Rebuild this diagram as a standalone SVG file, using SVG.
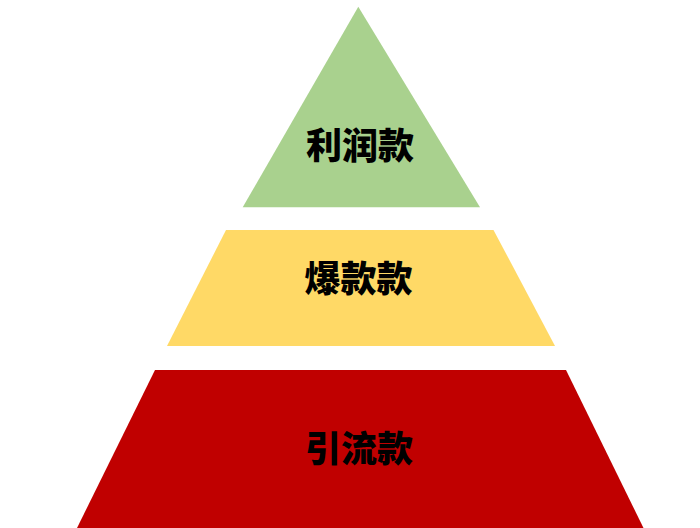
<svg xmlns="http://www.w3.org/2000/svg" width="700" height="528" viewBox="0 0 700 528">
<style>
.lbl{font-family:"Noto Sans CJK SC","Noto Sans CJK JP",sans-serif;font-weight:900;font-size:36px;fill:#000;text-anchor:middle}
</style>
<rect width="700" height="528" fill="#fff"/>
<g id="top">
<polygon points="358.3,6.7 480,207.3 242.7,207.3" fill="#A9D18E"/>
<text class="lbl" x="360" y="159">利润款</text>
</g>
<g id="middle">
<polygon points="226,230 493.5,230 555,346 167,346" fill="#FFD966"/>
<text class="lbl" x="358.5" y="292">爆款款</text>
</g>
<g id="bottom">
<polygon points="155,370 566,370 643.5,528 77,528" fill="#C00000"/>
<text class="lbl" x="359" y="461.5">引流款</text>
</g>
<g id="connectors"></g>
</svg>
